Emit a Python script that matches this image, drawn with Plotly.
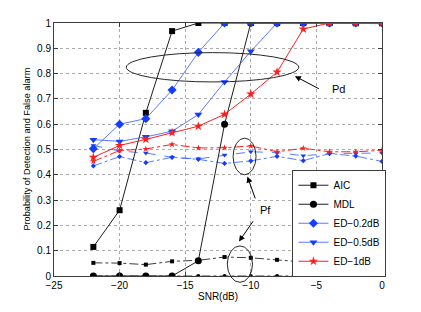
import plotly.graph_objects as go

snr = [-22, -20, -18, -16, -14, -12, -10, -8, -6, -4, -2, 0]

aic_pd = [0.115, 0.26, 0.645, 0.968, 1, 1, 1, 1, 1, 1, 1, 1]
mdl_pd = [0, 0, 0, 0, 0.06, 0.6, 1, 1, 1, 1, 1, 1]
ed02_pd = [0.503, 0.60, 0.622, 0.735, 0.884, 1, 1, 1, 1, 1, 1, 1]
ed05_pd = [0.539, 0.532, 0.55, 0.572, 0.638, 0.767, 0.888, 1, 1, 1, 1, 1]
ed1_pd = [0.469, 0.516, 0.54, 0.567, 0.592, 0.639, 0.719, 0.806, 0.976, 1, 1, 1]

aic_pf = [0.052, 0.051, 0.045, 0.058, 0.062, 0.075, 0.072, 0.064, 0.057, 0.047, 0.058, 0.045]
mdl_pf = [0, 0, 0, 0, 0, 0, 0, 0, 0, 0, 0, 0]
ed02_pf = [0.435, 0.472, 0.448, 0.469, 0.461, 0.445, 0.455, 0.473, 0.456, 0.484, 0.474, 0.453]
ed05_pf = [0.516, 0.494, 0.486, 0.469, 0.463, 0.478, 0.491, 0.488, 0.475, 0.484, 0.484, 0.486]
ed1_pf = [0.453, 0.496, 0.502, 0.52, 0.506, 0.507, 0.514, 0.491, 0.505, 0.491, 0.491, 0.497]

x_ticks = [-25, -20, -15, -10, -5, 0]
y_ticks = [0, 0.1, 0.2, 0.3, 0.4, 0.5, 0.6, 0.7, 0.8, 0.9, 1]
y_ticklabels = ["0", "0.1", "0.2", "0.3", "0.4", "0.5", "0.6", "0.7", "0.8", "0.9", "1"]

BLACK = "black"
BLUE_L = "rgba(60,100,255,0.85)"
BLUE_M = "rgb(20,60,255)"
RED = "rgb(255,30,30)"

fig = go.Figure()

# Pf traces (dash-dot, small markers)
fig.add_trace(go.Scatter(x=snr, y=aic_pf, mode="lines+markers", showlegend=False,
                         line=dict(color="rgb(60,60,60)", width=1, dash="dashdot"),
                         marker=dict(symbol="square", size=4, color=BLACK)))
fig.add_trace(go.Scatter(x=snr, y=mdl_pf, mode="lines+markers", showlegend=False,
                         line=dict(color="rgb(60,60,60)", width=1, dash="dashdot"),
                         marker=dict(symbol="circle", size=4, color=BLACK)))
fig.add_trace(go.Scatter(x=snr, y=ed02_pf, mode="lines+markers", showlegend=False,
                         line=dict(color=BLUE_L, width=1, dash="dashdot"),
                         marker=dict(symbol="diamond", size=4, color=BLUE_M)))
fig.add_trace(go.Scatter(x=snr, y=ed05_pf, mode="lines+markers", showlegend=False,
                         line=dict(color=BLUE_L, width=1, dash="dash"),
                         marker=dict(symbol="triangle-down", size=5, color=BLUE_M)))
fig.add_trace(go.Scatter(x=snr, y=ed1_pf, mode="lines+markers", showlegend=False,
                         line=dict(color=RED, width=1, dash="dashdot"),
                         marker=dict(symbol="star", size=5, color=RED)))

# Pd traces (solid, big markers)
fig.add_trace(go.Scatter(x=snr, y=aic_pd, mode="lines+markers", name="AIC",
                         line=dict(color="rgb(30,30,30)", width=1),
                         marker=dict(symbol="square", size=6, color=BLACK)))
fig.add_trace(go.Scatter(x=snr, y=mdl_pd, mode="lines+markers", name="MDL",
                         line=dict(color="rgb(30,30,30)", width=1),
                         marker=dict(symbol="circle", size=7, color=BLACK)))
fig.add_trace(go.Scatter(x=snr, y=ed02_pd, mode="lines+markers", name="ED\u22120.2dB",
                         line=dict(color=BLUE_L, width=1),
                         marker=dict(symbol="diamond", size=7, color=BLUE_M)))
fig.add_trace(go.Scatter(x=snr, y=ed05_pd, mode="lines+markers", name="ED\u22120.5dB",
                         line=dict(color=BLUE_L, width=1),
                         marker=dict(symbol="triangle-down", size=7, color=BLUE_M)))
fig.add_trace(go.Scatter(x=snr, y=ed1_pd, mode="lines+markers", name="ED\u22121dB",
                         line=dict(color=RED, width=1),
                         marker=dict(symbol="star", size=7, color=RED)))

# Ellipses
ell = dict(type="circle", line=dict(color="rgb(40,40,40)", width=1), layer="above")
fig.add_shape(xref="x", yref="y", x0=-19.49, x1=-6.35, y0=0.767, y1=0.883, **ell)
fig.add_shape(xref="x", yref="y", x0=-11.35, x1=-9.6, y0=0.40, y1=0.545, **ell)
# y axis spans the full paper height of the plot area, so paper y equals data y
fig.add_shape(xref="x", yref="paper", x0=-11.79, x1=-9.87, y0=-0.025, y1=0.119, **ell)

# Arrows and labels
arr = dict(showarrow=True, arrowhead=2, arrowsize=1.2, arrowwidth=1, arrowcolor="black",
           xref="x", yref="y", axref="x", ayref="y", text="")
fig.add_annotation(x=-6.64, y=0.79, ax=-4.70, ay=0.737, **arr)
fig.add_annotation(x=-10.26, y=0.393, ax=-9.62, ay=0.301, **arr)
fig.add_annotation(x=-10.90, y=0.136, ax=-9.75, ay=0.222, **arr)
fig.add_annotation(x=-3.3, y=0.741, text="Pd", showarrow=False, xref="x", yref="y",
                   font=dict(size=11, color="black"))
fig.add_annotation(x=-8.9, y=0.261, text="Pf", showarrow=False, xref="x", yref="y",
                   font=dict(size=11, color="black"))

# y-axis title placed close to the tick labels (as in the reference)
fig.add_annotation(x=-0.085, y=0.5, xref="paper", yref="paper", showarrow=False,
                   xanchor="center", yanchor="middle",
                   text="Probability of Detection and False alarm", textangle=-90,
                   font=dict(size=9.2, color="black"))

axis_common = dict(showline=True, linecolor="rgb(60,60,60)", linewidth=1, mirror="ticks",
                   ticks="inside", ticklen=4, tickcolor="rgb(60,60,60)",
                   showgrid=True, gridcolor="rgb(170,170,170)", griddash="dot", gridwidth=1,
                   zeroline=False, tickfont=dict(size=10, color="black"), automargin=False)

fig.update_xaxes(range=[-25, 0], tickvals=x_ticks,
                 title=dict(text="SNR(dB)", font=dict(size=10, color="black"), standoff=2),
                 **axis_common)
fig.update_yaxes(range=[0, 1], tickvals=y_ticks, ticktext=y_ticklabels, **axis_common)

# page body adds an 8px offset, so margins are shifted to compensate
fig.update_layout(
    width=421, height=312,
    margin=dict(l=46, r=47, t=15, b=44),
    paper_bgcolor="white", plot_bgcolor="white",
    font=dict(family="Liberation Sans, Arial, sans-serif", size=10, color="black"),
    legend=dict(x=0.727, y=0.42, xanchor="left", yanchor="top",
                bgcolor="white", bordercolor="rgb(60,60,60)", borderwidth=1,
                font=dict(size=10), tracegroupgap=0, itemwidth=30),
)

fig.write_html("out.html")
